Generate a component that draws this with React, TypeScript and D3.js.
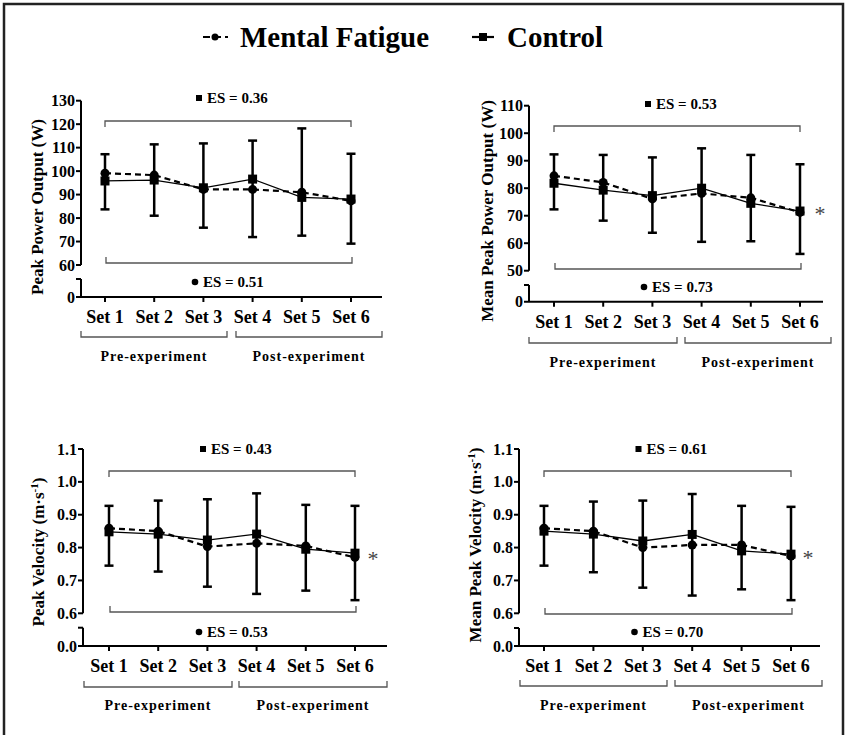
import * as d3 from "d3";
import React from "react";

const sets = ["Set 1", "Set 2", "Set 3", "Set 4", "Set 5", "Set 6"];
const groups = ["Pre-experiment", "Post-experiment"];

// peak power output (W)
const ppoMF = [99.1, 98.3, 92.2, 92.2, 91.0, 87.3];
const ppoCon = [95.8, 96.2, 92.9, 96.6, 88.8, 88.1];
const ppoHi = [107.2, 111.4, 111.8, 113.0, 118.2, 107.4];
const ppoLo = [83.7, 81.0, 75.9, 71.9, 72.5, 69.1];

// mean peak power output (W)
const mppoMF = [84.5, 82.1, 76.1, 78.1, 76.5, 71.2];
const mppoCon = [81.8, 79.3, 77.3, 80.0, 74.5, 71.7];
const mppoHi = [92.3, 92.1, 91.2, 94.5, 92.1, 88.7];
const mppoLo = [72.3, 68.2, 63.8, 60.5, 60.7, 56.1];

// peak velocity (m/s)
const pvMF = [0.859, 0.85, 0.803, 0.813, 0.805, 0.77];
const pvCon = [0.848, 0.841, 0.823, 0.841, 0.795, 0.783];
const pvHi = [0.927, 0.943, 0.947, 0.965, 0.93, 0.927];
const pvLo = [0.745, 0.727, 0.681, 0.659, 0.669, 0.64];

// mean peak velocity (m/s)
const mpvMF = [0.859, 0.85, 0.8, 0.808, 0.808, 0.774];
const mpvCon = [0.85, 0.841, 0.82, 0.84, 0.79, 0.78];
const mpvHi = [0.927, 0.94, 0.943, 0.963, 0.927, 0.924];
const mpvLo = [0.745, 0.725, 0.678, 0.654, 0.673, 0.64];

const ppoTicks = [60, 70, 80, 90, 100, 110, 120, 130];
const mppoTicks = [50, 60, 70, 80, 90, 100, 110];
const velTicks = [0.6, 0.7, 0.8, 0.9, 1.0, 1.1];

const FONT = "Liberation Serif, DejaVu Serif, Times New Roman, serif";

const panels = [
  {
    mf: ppoMF, con: ppoCon, hi: ppoHi, lo: ppoLo, ticks: ppoTicks, fmt: d3.format("d"), zero: "0",
    es: ["0.36", "0.51"], label: "Peak Power Output (W)", sup: null, star: false,
    ax: 81, x0: 105, x1: 351, yTop: 100.7, yBot: 265, low: 279, zeroY: 297, xEnd: 382,
    pre: [81, 227], post: [236, 382], brY: 337, grpY: 361, setY: 323,
    topBr: 121, topEs: 98, botBr: 263, botEs: 282, lx: 43, ly: 207, sx: 0, sy: 0,
  },
  {
    mf: mppoMF, con: mppoCon, hi: mppoHi, lo: mppoLo, ticks: mppoTicks, fmt: d3.format("d"), zero: "0",
    es: ["0.53", "0.73"], label: "Mean Peak Power Output (W)", sup: null, star: true,
    ax: 529, x0: 554, x1: 800, yTop: 105.7, yBot: 270.7, low: 285, zeroY: 301.7, xEnd: 823,
    pre: [529, 677], post: [685, 831], brY: 343, grpY: 367, setY: 328,
    topBr: 126, topEs: 104, botBr: 269, botEs: 287, lx: 493, ly: 211, sx: 820, sy: 211,
  },
  {
    mf: pvMF, con: pvCon, hi: pvHi, lo: pvLo, ticks: velTicks, fmt: d3.format(".1f"), zero: "0.0",
    es: ["0.43", "0.53"], label: "Peak Velocity (m·s", sup: "-1", star: true,
    ax: 83, x0: 109, x1: 355, yTop: 449, yBot: 613.3, low: 627.7, zeroY: 646, xEnd: 387,
    pre: [84, 232], post: [239, 387], brY: 687, grpY: 710, setY: 672,
    topBr: 471, topEs: 449, botBr: 612, botEs: 632, lx: 44, ly: 552, sx: 373, sy: 556,
  },
  {
    mf: mpvMF, con: mpvCon, hi: mpvHi, lo: mpvLo, ticks: velTicks, fmt: d3.format(".1f"), zero: "0.0",
    es: ["0.61", "0.70"], label: "Mean Peak Velocity (m·s", sup: "-1", star: true,
    ax: 519, x0: 544, x1: 791, yTop: 449, yBot: 613.3, low: 628, zeroY: 646, xEnd: 820,
    pre: [520, 667], post: [675, 822], brY: 686, grpY: 710, setY: 672,
    topBr: 471, topEs: 449, botBr: 614, botEs: 632, lx: 481, ly: 545, sx: 808, sy: 555,
  },
];

function Panel({ p }: { p: any }) {
  const x = d3.scalePoint<string>().domain(sets).range([p.x0, p.x1]);
  const t = p.ticks;
  const y = d3.scaleLinear().domain([t[0], t[t.length - 1]]).range([p.yBot, p.yTop]);
  const line = d3.line<number>().x((_, i) => x(sets[i])!).y((d) => y(d));
  const mid = (p.x0 + p.x1) / 2;
  const grey = "#555";
  return (
    <g style={{ fontFamily: FONT }} fontWeight="bold">
      {/* y axis with break */}
      <line x1={p.ax} x2={p.ax} y1={p.yTop} y2={p.yBot} stroke="#000" strokeWidth={2} />
      {t.map((v: number) => (
        <g key={v}>
          <line x1={p.ax - 5} x2={p.ax} y1={y(v)} y2={y(v)} stroke="#000" strokeWidth={2} />
          <text x={p.ax - 6} y={y(v) + 5.5} fontSize={16} textAnchor="end">{p.fmt(v)}</text>
        </g>
      ))}
      <line x1={p.ax} x2={p.ax} y1={p.low} y2={p.zeroY} stroke="#000" strokeWidth={2} />
      <line x1={p.ax - 5} x2={p.ax} y1={p.low} y2={p.low} stroke="#000" strokeWidth={2} />
      <line x1={p.ax - 5} x2={p.xEnd} y1={p.zeroY} y2={p.zeroY} stroke="#000" strokeWidth={2} />
      <text x={p.ax - 6} y={p.zeroY + 5.5} fontSize={16} textAnchor="end">{p.zero}</text>
      {sets.map((s) => (
        <g key={s}>
          <line x1={x(s)} x2={x(s)} y1={p.zeroY} y2={p.zeroY + 5} stroke="#000" strokeWidth={2} />
          <text x={x(s)} y={p.setY} fontSize={18} textAnchor="middle">{s}</text>
        </g>
      ))}
      {/* y label */}
      <text transform={`translate(${p.lx},${p.ly}) rotate(-90)`} fontSize={17} textAnchor="middle">
        {p.label}
        {p.sup && <tspan dy={-6} fontSize={11}>{p.sup}</tspan>}
        {p.sup && <tspan dy={6}>)</tspan>}
      </text>
      {/* group brackets */}
      {[p.pre, p.post].map((b: number[], i: number) => (
        <g key={i}>
          <path d={`M${b[0]},${p.brY - 6}V${p.brY}H${b[1]}V${p.brY - 6}`} fill="none" stroke={grey} strokeWidth={1.3} />
          <text x={(b[0] + b[1]) / 2} y={p.grpY} fontSize={14} letterSpacing={1} textAnchor="middle">{groups[i]}</text>
        </g>
      ))}
      {/* effect size brackets */}
      <path d={`M${p.x0},${p.topBr + 6}V${p.topBr}H${p.x1}V${p.topBr + 6}`} fill="none" stroke={grey} strokeWidth={1.3} />
      <rect x={mid - 29 - 3} y={p.topEs - 3} width={6} height={6} fill="#000" />
      <text x={mid - 21} y={p.topEs + 5} fontSize={15}>ES = {p.es[0]}</text>
      <path d={`M${p.x0 + 1},${p.botBr - 6}V${p.botBr}H${p.x1 + 1}V${p.botBr - 6}`} fill="none" stroke={grey} strokeWidth={1.3} />
      <circle cx={mid - 33} cy={p.botEs} r={3.3} fill="#000" />
      <text x={mid - 25} y={p.botEs + 5} fontSize={15}>ES = {p.es[1]}</text>
      {/* error bars */}
      {sets.map((s, i) => (
        <g key={s} stroke="#000" strokeWidth={2.5}>
          <line x1={x(s)} x2={x(s)} y1={y(p.hi[i])} y2={y(p.lo[i])} />
          <line x1={x(s)! - 4.5} x2={x(s)! + 4.5} y1={y(p.hi[i])} y2={y(p.hi[i])} />
          <line x1={x(s)! - 4.5} x2={x(s)! + 4.5} y1={y(p.lo[i])} y2={y(p.lo[i])} />
        </g>
      ))}
      <path d={line(p.con)!} fill="none" stroke="#000" strokeWidth={1.3} />
      <path d={line(p.mf)!} fill="none" stroke="#000" strokeWidth={2.2} strokeDasharray="6,4" />
      {sets.map((s, i) => (
        <g key={s}>
          <rect x={x(s)! - 4.5} y={y(p.con[i]) - 4.5} width={9} height={9} fill="#000" />
          <circle cx={x(s)} cy={y(p.mf[i])} r={4.5} fill="#000" />
        </g>
      ))}
      {p.star && (
        <text x={p.sx} y={p.sy + 10} fontSize={22} fill="#444" fontWeight="normal" textAnchor="middle">*</text>
      )}
    </g>
  );
}

export default function App() {
  return (
    <svg width={847} height={735} style={{ position: "absolute", left: 0, top: 0, background: "#fff" }}>
      <rect x={0} y={0} width={847} height={735} fill="#fff" />
      <path d="M4,740V4H843V740" fill="none" stroke="#222" strokeWidth={2.5} />
      {/* legend */}
      <g style={{ fontFamily: FONT }} fontWeight="bold" fontSize={30}>
        <line x1={203} x2={228} y1={37} y2={37} stroke="#000" strokeWidth={2.2} strokeDasharray="7,4" />
        <circle cx={215} cy={37} r={3.5} fill="#000" />
        <text x={240} y={47} textLength={189} lengthAdjust="spacingAndGlyphs">Mental Fatigue</text>
        <line x1={472} x2={494} y1={37} y2={37} stroke="#000" strokeWidth={2.2} />
        <rect x={479} y={33} width={8} height={8} fill="#000" />
        <text x={507} y={47} textLength={96} lengthAdjust="spacingAndGlyphs">Control</text>
      </g>
      {panels.map((p, i) => (
        <Panel key={i} p={p} />
      ))}
    </svg>
  );
}
